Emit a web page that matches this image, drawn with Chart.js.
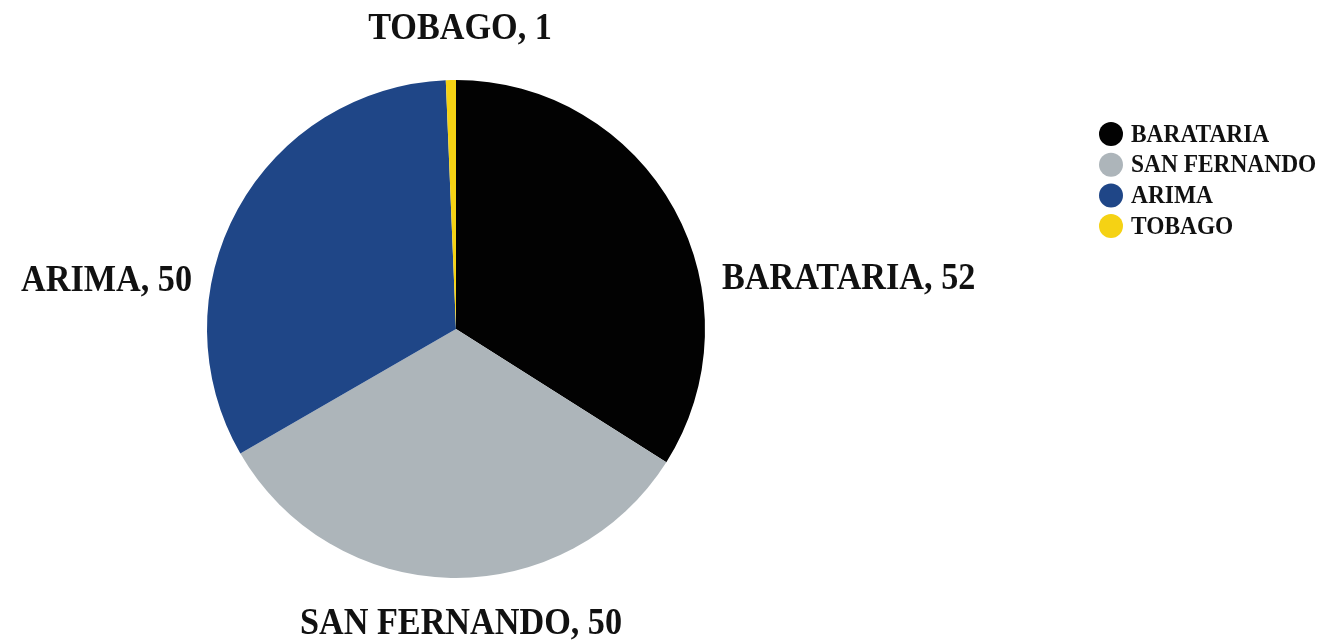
<!DOCTYPE html>
<html>
<head>
<meta charset="utf-8">
<script src="https://cdn.jsdelivr.net/npm/chart.js@4/dist/chart.umd.min.js"></script>
<style>
  body { margin: 0; background: #fff; }
  #wrap { position: relative; width: 1327px; height: 641px; }
</style>
</head>
<body>
<div id="wrap"><canvas id="pieChart"></canvas></div>
<script>
// Regions and their counts
const regions = ['BARATARIA', 'SAN FERNANDO', 'ARIMA', 'TOBAGO'];
const counts = [52, 50, 50, 1];
const sliceColors = ['#020202', '#adb5ba', '#1f4687', '#f5d214'];

const labelFont = 'bold 38px "Liberation Serif", "DejaVu Serif", serif';
const legendFont = 'bold 26px "Liberation Serif", "DejaVu Serif", serif';

// where each slice label sits, relative to the pie centre and radius
const labelPlacement = [
  { side: 1, dy: -50, align: 'left' },     // right of the pie
  { side: 0, dy: 1, align: 'center' },     // below
  { side: -1, dy: -48, align: 'right' },   // left of the pie
  { side: 0, dy: -1, align: 'center' }     // above
];

// draw condensed text, squeezed horizontally a little
function squeezedText(ctx, text, x, y, align) {
  ctx.save();
  ctx.translate(x, y);
  ctx.scale(0.9, 1);
  ctx.textAlign = align;
  ctx.fillText(text, 0, 0);
  ctx.restore();
}

const sliceLabels = {
  id: 'sliceLabels',
  afterDatasetsDraw(chart) {
    const ctx = chart.ctx;
    const arcs = chart.getDatasetMeta(0).data;
    ctx.save();
    ctx.font = labelFont;
    ctx.fillStyle = '#111';
    ctx.textBaseline = 'middle';
    arcs.forEach((arc, i) => {
      const p = labelPlacement[i];
      const r = arc.outerRadius;
      const text = regions[i] + ', ' + counts[i];
      let x, y;
      if (p.side === 1) {
        x = arc.x + r + 17;
        y = arc.y + p.dy;
      } else if (p.side === -1) {
        x = arc.x - r - 15;
        y = arc.y + p.dy;
      } else if (p.dy > 0) {
        x = arc.x + 5;
        y = arc.y + r + 46;
      } else {
        x = arc.x + 4;
        y = arc.y - r - 51;
      }
      squeezedText(ctx, text, x, y, p.align);
    });
    ctx.restore();
  }
};

const sideLegend = {
  id: 'sideLegend',
  afterDraw(chart) {
    const ctx = chart.ctx;
    const colors = chart.data.datasets[0].backgroundColor;
    ctx.save();
    ctx.font = legendFont;
    ctx.textBaseline = 'middle';
    chart.data.labels.forEach((name, i) => {
      const cy = 134 + i * 30.7;
      ctx.beginPath();
      ctx.arc(1111, cy, 12, 0, Math.PI * 2);
      ctx.fillStyle = colors[i];
      ctx.fill();
      ctx.fillStyle = '#111';
      squeezedText(ctx, name, 1131, cy + 1, 'left');
    });
    ctx.restore();
  }
};

new Chart(document.getElementById('pieChart'), {
  type: 'pie',
  data: {
    labels: regions,
    datasets: [{
      data: counts,
      backgroundColor: sliceColors,
      borderWidth: 0
    }]
  },
  options: {
    responsive: true,
    maintainAspectRatio: false,
    animation: false,
    layout: { padding: { left: 207, right: 622, top: 80, bottom: 63 } },
    plugins: {
      legend: { display: false },
      tooltip: { enabled: false }
    }
  },
  plugins: [sliceLabels, sideLegend]
});
</script>
</body>
</html>
